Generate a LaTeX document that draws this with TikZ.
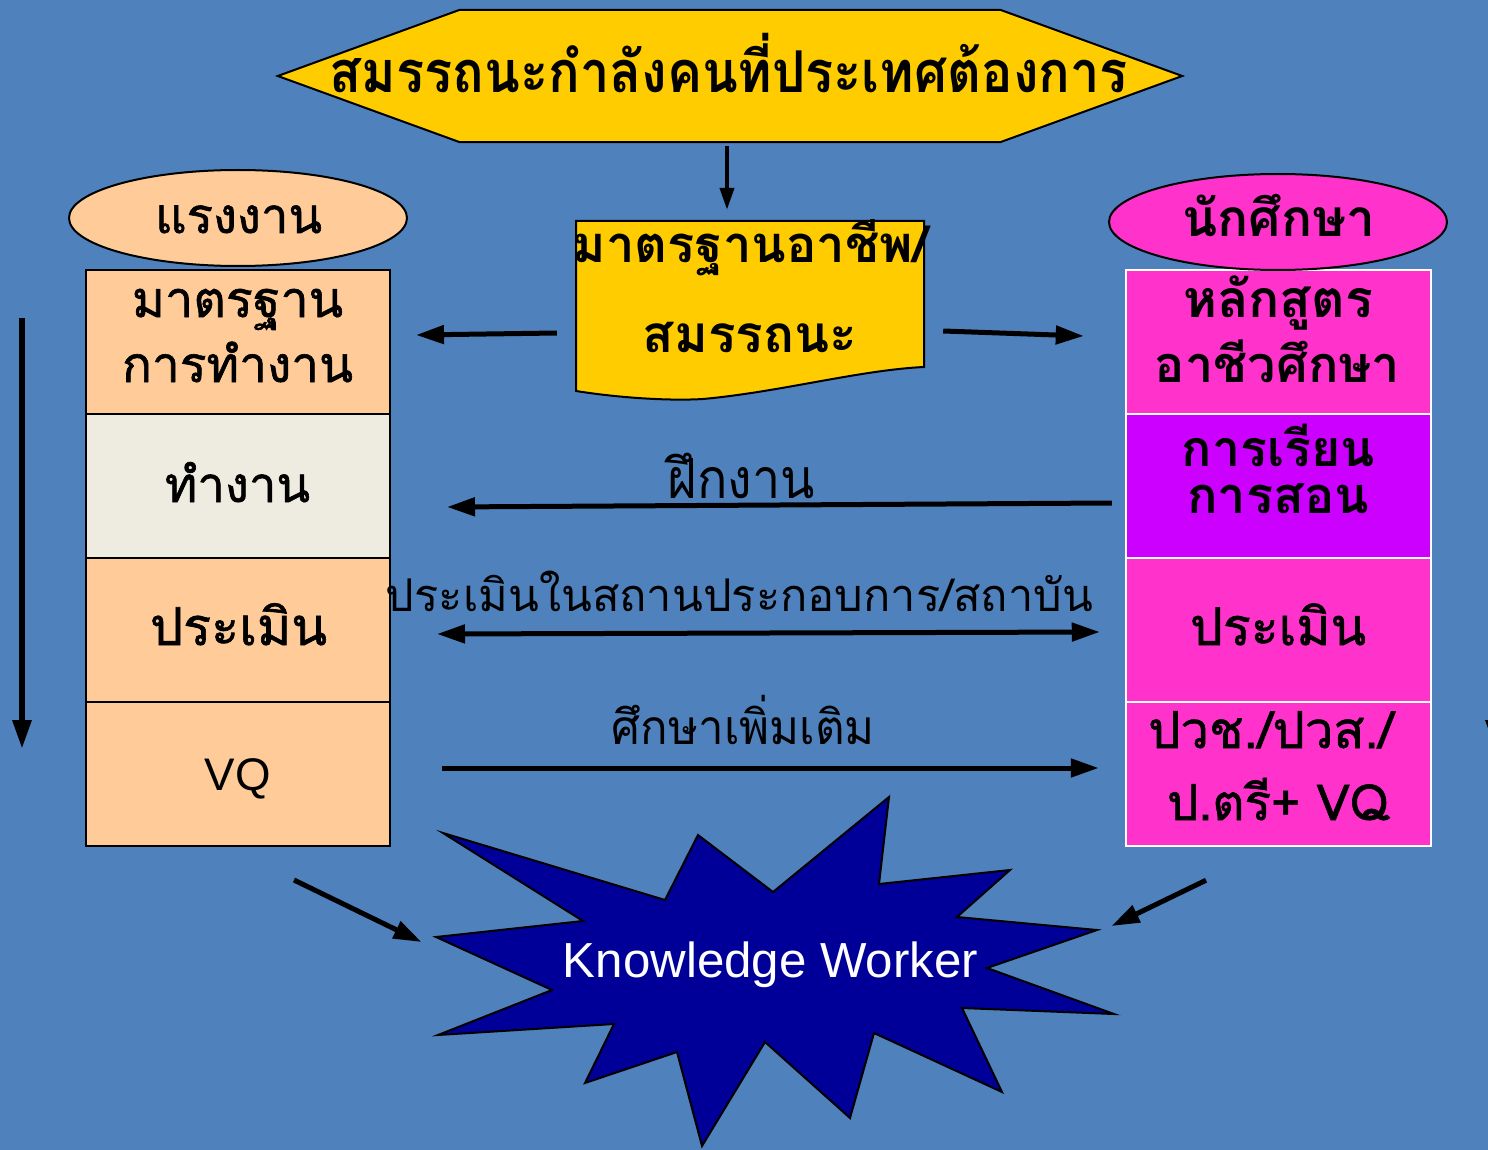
\documentclass[tikz,border=0pt]{standalone}
\usepackage{fontspec}
\usepackage{graphicx}
\setmainfont{Liberation Sans}
\newfontfamily\thf[Script=Thai]{Loma}
\newfontfamily\thm[Script=Thai,FakeBold=1.2]{Loma}
\usetikzlibrary{arrows.meta,calc,shapes.geometric}
\definecolor{bg}{RGB}{79,129,189}
\definecolor{gold}{RGB}{255,204,0}
\definecolor{peach}{RGB}{255,204,153}
\definecolor{cream}{RGB}{238,236,225}
\definecolor{pinkc}{RGB}{255,51,204}
\definecolor{violetc}{RGB}{204,0,255}
\definecolor{navyc}{RGB}{0,0,153}
\newcommand{\fw}[2]{\resizebox{#1pt}{!}{#2}}
\tikzset{
  cellL/.style={draw=black, line width=2pt, minimum width=304pt, minimum height=144pt, inner sep=0pt},
  cellR/.style={draw=white, line width=2.5pt, minimum width=305pt, minimum height=144pt, inner sep=0pt},
  tx/.style={inner sep=0pt, anchor=base},
  oval/.style={ellipse, draw=black, line width=2pt, minimum width=338pt, minimum height=96pt, inner sep=0pt},
  arr/.style={line width=5pt, -{Triangle[length=28pt,width=18pt]}},
  darr/.style={line width=5pt, {Triangle[length=28pt,width=18pt]}-{Triangle[length=28pt,width=18pt]}},
  arrs/.style={line width=4pt, -{Triangle[length=22pt,width=14pt]}}
}
\begin{document}
\begin{tikzpicture}[x=1pt,y=-1pt]
\useasboundingbox (0,0) rectangle (1488,1150);
\fill[bg] (0,0) rectangle (1488,1150);
\begin{scope}
\clip (0,0) rectangle (1488,1150);

% left column
\node[cellL, fill=peach] (L1) at (238,342) {};
\node[cellL, fill=cream] (L2) at (238,486) {};
\node[cellL, fill=peach] (L3) at (238,630) {};
\node[cellL, fill=peach] (L4) at (238,774) {};
\node[tx] (tL1a) at (237.5,317) {\fw{211}{\thm มาตรฐาน}};
\node[tx] (tL1b) at (237.5,382) {\fw{231}{\thm การทำงาน}};
\node[tx] (tL2) at (237.5,502) {\fw{145}{\thm ทำงาน}};
\node[tx] (tL3) at (238.5,645) {\fw{177}{\thm ประเมิน}};
\node[tx] (tL4) at (238,790) {\fw{66}{VQ}};

% right column
\node[cellR, fill=pinkc] (R1) at (1278.5,342) {};
\node[cellR, fill=violetc] (R2) at (1278.5,486) {};
\node[cellR, fill=pinkc] (R3) at (1278.5,630) {};
\node[cellR, fill=pinkc] (R4) at (1278.5,774) {};
\node[tx] (tR1a) at (1278,318) {\fw{190}{\thf\bfseries หลักสูตร}};
\node[tx] (tR1b) at (1277.5,382) {\fw{245}{\thf\bfseries อาชีวศึกษา}};
\node[tx] (tR2a) at (1278.5,466) {\fw{193}{\thf\bfseries การเรียน}};
\node[tx] (tR2b) at (1278,513) {\fw{182}{\thf\bfseries การสอน}};
\node[tx] (tR3) at (1278,645) {\fw{176}{\thm ประเมิน}};
\node[tx, anchor=base west] (tR4a) at (1148,748) {\fw{245}{\thm ปวช./ปวส./}};
\node[tx] (tR4b) at (1278.5,820) {\fw{223}{\thm ป.ตรี+ VQ}};

% ellipses
\node[oval, fill=peach] (EL) at (238,218) {};
\node[tx] (tEL) at (238.5,233) {\fw{167}{\thm แรงงาน}};
\node[oval, fill=pinkc] (ER) at (1278,222) {};
\node[tx] (tER) at (1278.5,237) {\fw{193}{\thf\bfseries นักศึกษา}};

% hexagon
\node[minimum width=904pt, minimum height=132pt, inner sep=0pt] (hex) at (730,76) {};
\draw[fill=gold, line width=2pt, line join=miter] (hex.west) -- ([xshift=182pt]hex.north west) -- ([xshift=-182pt]hex.north east) -- (hex.east) -- ([xshift=-182pt]hex.south east) -- ([xshift=182pt]hex.south west) -- cycle;
\node[tx] (thex) at (729,93) {\scalebox{1}[1.1]{\fw{798}{\thf\bfseries สมรรถนะกำลังคนที่ประเทศต้องการ}}};

% document shape
\node[minimum width=348pt, minimum height=170pt, inner sep=0pt] (doc) at (750,306) {};
\draw[fill=gold, line width=2pt] (576,391) -- (576,221) -- (924,221) -- (924,367)
  .. controls (860,370) and (780,392) .. (703,399)
  .. controls (670,401) and (620,398) .. (576,391) -- cycle;
\node[tx] (tdoc1) at (750.5,263) {\fw{355}{\thf\bfseries มาตรฐานอาชีพ/}};
\node[tx] (tdoc2) at (750,352) {\fw{214}{\thf\bfseries สมรรถนะ}};

% star
\draw[fill=navyc, line width=2pt, line join=miter] (443,833) -- (665,900) -- (698,835) -- (773,892) -- (889,797) -- (879,884) -- (1010,870) -- (957,917) -- (1097,930) -- (987,968) -- (1114,1014) -- (962,1008) -- (1002,1092) -- (874,1033) -- (850,1118) -- (765,1042) -- (702,1146) -- (677,1052) -- (585,1083) -- (614,1024) -- (438,1035) -- (552,990) -- (436,937) -- (583,921) -- cycle;
\node[tx] (star) at (770.5,977) {\fw{415}{\color{white}Knowledge Worker}};

% arrow labels
\node[tx] (lb1) at (741.5,498) {\scalebox{1}[1.1]{\fw{147}{\thf ฝึกงาน}}};
\node[tx] (lb2) at (739.5,611) {\fw{707}{\thf ประเมินในสถานประกอบการ/สถาบัน}};
\node[tx] (lb3) at (743.5,744) {\scalebox{1}[1.05]{\fw{263}{\thf ศึกษาเพิ่มเติม}}};

% connectors
\draw[arrs] ([shift={(-3,4)}]hex.south) -- ([shift={(-23,-11)}]doc.north);
\draw[arr] ([shift={(-19,27)}]doc.west) -- ([shift={(25,-7)}]L1.east);
\draw[arr] ([shift={(19,25)}]doc.east) -- ([shift={(-41,-6)}]R1.west);
\draw[arr] ([shift={(-13,17)}]R2.west) -- ([shift={(56,21)}]L2.east);
\draw[darr] ([shift={(46,4)}]L3.east) -- ([shift={(-25,2)}]R3.west);
\draw[arr] ([shift={(51,-6)}]L4.east) -- ([shift={(-26,-6)}]R4.west);
\coordinate (vtop) at (22,318);
\coordinate (vbot) at (22,749);
\draw[line width=6pt, -{Triangle[length=29pt,width=18pt]}] (vtop) -- (vbot);
\coordinate (rtop) at (1495,318);
\coordinate (rbot) at (1495,749);
\draw[line width=6pt, -{Triangle[length=29pt,width=18pt]}] (rtop) -- (rbot);
\draw[arr] ([shift={(56,33)}]L4.south) -- ([shift={(-349,-35)}]star.base);
\draw[arr] ([shift={(-72.5,33)}]R4.south) -- ([shift={(341,-51)}]star.base);
\end{scope}
\end{tikzpicture}
\end{document}
